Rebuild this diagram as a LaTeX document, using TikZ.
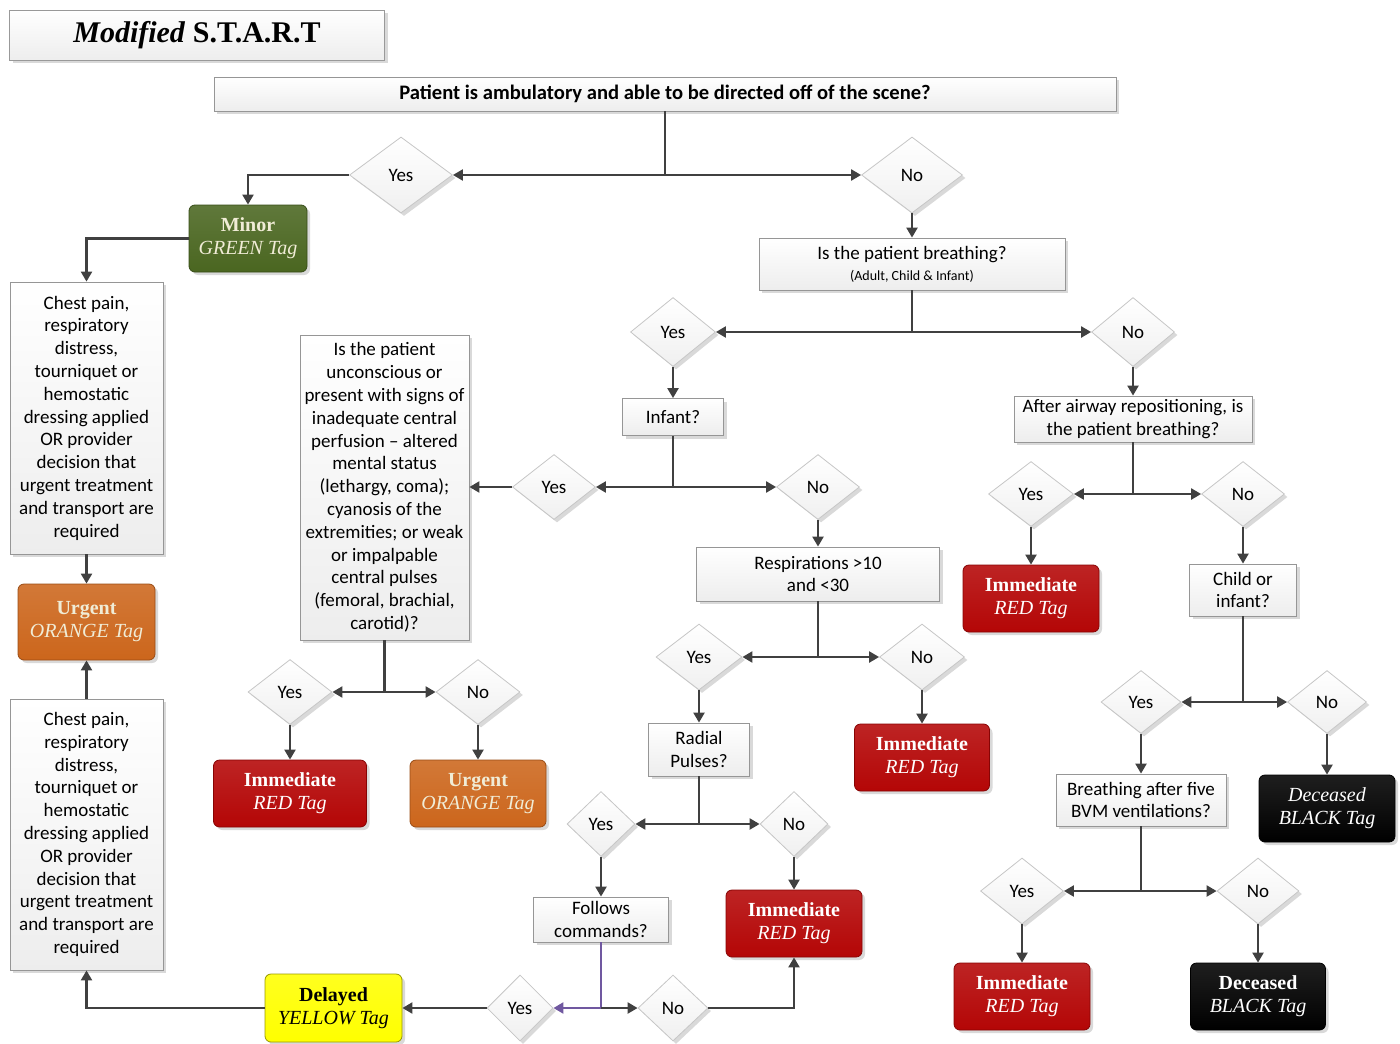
\documentclass[tikz,border=0pt]{standalone}
\usepackage{fontspec}
\setmainfont{Carlito}
\newfontfamily\tagfont{Liberation Serif}
\usetikzlibrary{shapes.geometric,arrows.meta,shadows}

\definecolor{linegray}{RGB}{64,64,64}
\definecolor{boxline}{RGB}{150,150,150}
\definecolor{greentag}{RGB}{74,102,32}
\definecolor{orangetag}{RGB}{204,102,28}
\definecolor{redtag}{RGB}{180,6,6}
\definecolor{blacktag}{RGB}{0,0,0}
\definecolor{yellowtag}{RGB}{255,255,0}
\definecolor{creamtext}{RGB}{240,236,214}
\definecolor{purpleline}{RGB}{112,88,160}

\tikzset{
  shade/.style={drop shadow={shadow xshift=1.5pt,shadow yshift=-1.5pt,opacity=.3,fill=gray}},
  qbox/.style={draw=boxline,top color=white,bottom color=gray!14,shade,align=center,inner sep=0pt,
    font=\fontsize{9.5}{11.4}\selectfont},
  tag/.style={rounded corners=3pt,draw=#1!75!black,top color=#1!88!white,bottom color=#1,shade,
    align=center,inner sep=0pt,minimum width=68pt,minimum height=33.5pt,text=white,
    font=\tagfont\fontsize{10}{11.5}\selectfont},
  dia/.style={diamond,draw=gray!45,top color=white,bottom color=gray!12,shade,inner sep=0pt,
    minimum width=42pt,minimum height=32.5pt,font=\fontsize{9.5}{11.4}\selectfont},
  link/.style={draw=linegray,line width=1.1pt},
}

\begin{document}
\begin{tikzpicture}[x=0.5pt,y=-0.5pt,>={Triangle[length=5pt,width=5.5pt]}]
\useasboundingbox (0,0) rectangle (1400,1043);

% title and first question
\node[qbox,minimum width=187.5pt,minimum height=25pt,draw=gray!80] (title) at (197,35)
  {\tagfont\fontsize{15}{18}\selectfont\textbf{\textit{Modified}} \textbf{S.T.A.R.T}};
\node[qbox,minimum width=451pt,minimum height=17pt,font=\fontsize{10.3}{12}\selectfont] (ambul) at (665,94)
  {\textbf{Patient is ambulatory and able to be directed off of the scene?}};

\node[dia,minimum width=51.5pt,minimum height=38pt] (yes1) at (401,175) {Yes};
\node[dia,minimum width=50.5pt,minimum height=38pt] (no1) at (912,175) {No};

% green branch
\node[tag=greentag,minimum width=59pt,text=creamtext] (minor) at (248,238.5)
  {\textbf{Minor}\\\textit{GREEN Tag}};
\node[qbox,minimum width=76.5pt,minimum height=136pt] (chest1) at (86.5,418)
  {Chest pain,\\respiratory\\distress,\\tourniquet or\\hemostatic\\dressing applied\\OR provider\\decision that\\urgent treatment\\and transport are\\required};
\node[tag=orangetag,minimum width=68.5pt,minimum height=38pt,text=creamtext] (urg1) at (86.5,622)
  {\textbf{Urgent}\\\textit{ORANGE Tag}};
\node[qbox,minimum width=76.5pt,minimum height=135.5pt] (chest2) at (86.5,834.5)
  {Chest pain,\\respiratory\\distress,\\tourniquet or\\hemostatic\\dressing applied\\OR provider\\decision that\\urgent treatment\\and transport are\\required};

% breathing
\node[qbox,minimum width=153pt,minimum height=26pt] (breath) at (912,264)
  {Is the patient breathing?\\[-1pt]{\fontsize{7}{8}\selectfont(Adult, Child \& Infant)}};
\node[dia,minimum width=42.5pt,minimum height=34.5pt] (yes2) at (673,332) {Yes};
\node[dia,minimum width=41.5pt,minimum height=34.5pt] (no2) at (1133,332) {No};

\node[qbox,minimum width=50.5pt,minimum height=18.5pt] (infant) at (673,417) {Infant?};
\node[qbox,minimum width=119pt,minimum height=23pt] (airway) at (1133,419)
  {After airway repositioning, is\\the patient breathing?};

\node[dia,minimum width=41.5pt] (yes3) at (554,487) {Yes};
\node[dia,minimum width=41.5pt] (no3) at (818,487) {No};
\node[dia,minimum width=42.5pt] (yes4) at (1031,494) {Yes};
\node[dia,minimum width=41.5pt] (no4) at (1243,494) {No};

\node[qbox,minimum width=84.5pt,minimum height=152.5pt] (perfus) at (384.5,487.5)
  {Is the patient\\unconscious or\\present with signs of\\inadequate central\\perfusion – altered\\mental status\\(lethargy, coma);\\cyanosis of the\\extremities; or weak\\or impalpable\\central pulses\\(femoral, brachial,\\carotid)?};
\node[qbox,minimum width=121.5pt,minimum height=27pt] (resp) at (818,574)
  {Respirations >10\\and <30};
\node[tag=redtag] (imm1) at (1031,598.5) {\textbf{Immediate}\\\textit{RED Tag}};
\node[qbox,minimum width=53.5pt,minimum height=26pt] (child) at (1243,590) {Child or\\infant?};

\node[dia] (yes5) at (290,692) {Yes};
\node[dia] (no5) at (478,692) {No};
\node[dia,minimum width=43pt,minimum height=33pt] (yes6) at (699,657) {Yes};
\node[dia,minimum width=42.5pt,minimum height=33pt] (no6) at (922,657) {No};
\node[dia,minimum width=40pt,minimum height=31.5pt] (yes7) at (1141,702) {Yes};
\node[dia,minimum width=39.5pt,minimum height=31.5pt] (no7) at (1327,702) {No};

\node[tag=redtag,minimum width=76.5pt] (imm2) at (290,793.5) {\textbf{Immediate}\\\textit{RED Tag}};
\node[tag=orangetag,text=creamtext] (urg2) at (478,793.5) {\textbf{Urgent}\\\textit{ORANGE Tag}};
\node[qbox,minimum width=50.5pt,minimum height=26.5pt] (radial) at (699,749.5) {Radial\\Pulses?};
\node[tag=redtag,minimum width=67.5pt] (imm3) at (922,757.5) {\textbf{Immediate}\\\textit{RED Tag}};
\node[qbox,minimum width=85pt,minimum height=26pt] (bvm) at (1141,800)
  {Breathing after five\\BVM ventilations?};
\node[tag=blacktag] (dec1) at (1327,808.5) {\textit{Deceased}\\\textit{BLACK Tag}};

\node[dia,minimum width=34pt] (yes8) at (601,824) {Yes};
\node[dia,minimum width=34pt] (no8) at (794,824) {No};
\node[dia,minimum width=41.5pt,minimum height=33pt] (yes9) at (1022,891) {Yes};
\node[dia,minimum width=41pt,minimum height=33pt] (no9) at (1258,891) {No};

\node[qbox,minimum width=67.5pt,minimum height=22.5pt] (follow) at (601,919.5) {Follows\\commands?};
\node[tag=redtag] (imm4) at (794,923.5) {\textbf{Immediate}\\\textit{RED Tag}};
\node[tag=redtag] (imm5) at (1022,996.5) {\textbf{Immediate}\\\textit{RED Tag}};
\node[tag=blacktag,minimum width=67.5pt] (dec2) at (1258,996.5) {\textbf{Deceased}\\\textit{BLACK Tag}};

\node[dia,minimum width=33pt,minimum height=33pt] (yes10) at (520,1008) {Yes};
\node[dia,minimum width=35pt,minimum height=33pt] (no10) at (673,1008) {No};
\node[tag=yellowtag,minimum width=68.5pt,minimum height=34pt,text=black,draw=yellowtag!60!black] (delay) at (333.5,1008)
  {\textbf{Delayed}\\\textit{YELLOW Tag}};

% junctions
\coordinate (j1) at (ambul.south |- yes1.east);
\coordinate (j2) at (breath.south |- yes2.east);
\coordinate (j3) at (infant.south |- yes3.east);
\coordinate (j4) at (airway.south |- yes4.east);
\coordinate (j5) at (perfus.south |- yes5.east);
\coordinate (j6) at (resp.south |- yes6.east);
\coordinate (j7) at (child.south |- yes7.east);
\coordinate (j8) at (radial.south |- yes8.east);
\coordinate (j9) at (bvm.south |- yes9.east);
\coordinate (j10) at (follow.south |- yes10.east);

\draw[link] (ambul.south) -- (j1);
\draw[link,->] (j1) -- (yes1.east);
\draw[link,->] (j1) -- (no1.west);
\draw[link,->] (yes1.west) -| (minor.north);
\draw[link,->] (minor.west) -| (chest1.north);
\draw[link,->] (chest1.south) -- (urg1.north);
\draw[link,->] (chest2.north) -- (urg1.south);
\draw[link,->] (no1.south) -- (breath.north);

\draw[link] (breath.south) -- (j2);
\draw[link,->] (j2) -- (yes2.east);
\draw[link,->] (j2) -- (no2.west);
\draw[link,->] (yes2.south) -- (infant.north);
\draw[link,->] (no2.south) -- (airway.north);

\draw[link] (infant.south) -- (j3);
\draw[link,->] (j3) -- (yes3.east);
\draw[link,->] (j3) -- (no3.west);
\draw[link,->] (yes3.west) -- (perfus.east |- yes3.west);
\draw[link,->] (no3.south) -- (resp.north);

\draw[link] (airway.south) -- (j4);
\draw[link,->] (j4) -- (yes4.east);
\draw[link,->] (j4) -- (no4.west);
\draw[link,->] (yes4.south) -- (imm1.north);
\draw[link,->] (no4.south) -- (child.north);

\draw[link] (perfus.south) -- (j5);
\draw[link,->] (j5) -- (yes5.east);
\draw[link,->] (j5) -- (no5.west);
\draw[link,->] (yes5.south) -- (imm2.north);
\draw[link,->] (no5.south) -- (urg2.north);

\draw[link] (resp.south) -- (j6);
\draw[link,->] (j6) -- (yes6.east);
\draw[link,->] (j6) -- (no6.west);
\draw[link,->] (yes6.south) -- (radial.north);
\draw[link,->] (no6.south) -- (imm3.north);

\draw[link] (child.south) -- (j7);
\draw[link,->] (j7) -- (yes7.east);
\draw[link,->] (j7) -- (no7.west);
\draw[link,->] (yes7.south) -- (bvm.north);
\draw[link,->] (no7.south) -- (dec1.north);

\draw[link] (radial.south) -- (j8);
\draw[link,->] (j8) -- (yes8.east);
\draw[link,->] (j8) -- (no8.west);
\draw[link,->] (yes8.south) -- (follow.north);
\draw[link,->] (no8.south) -- (imm4.north);

\draw[link] (bvm.south) -- (j9);
\draw[link,->] (j9) -- (yes9.east);
\draw[link,->] (j9) -- (no9.west);
\draw[link,->] (yes9.south) -- (imm5.north);
\draw[link,->] (no9.south) -- (dec2.north);

% follows commands
\draw[link,draw=purpleline] (follow.south) -- (j10);
\draw[link,draw=purpleline,->] (j10) -- (yes10.east);
\draw[link,->] (j10) -- (no10.west);
\draw[link,->] (no10.east) -| (imm4.south);
\draw[link,->] (yes10.west) -- (delay.east);
\draw[link,->] (delay.west) -| (chest2.south);
\end{tikzpicture}
\end{document}
